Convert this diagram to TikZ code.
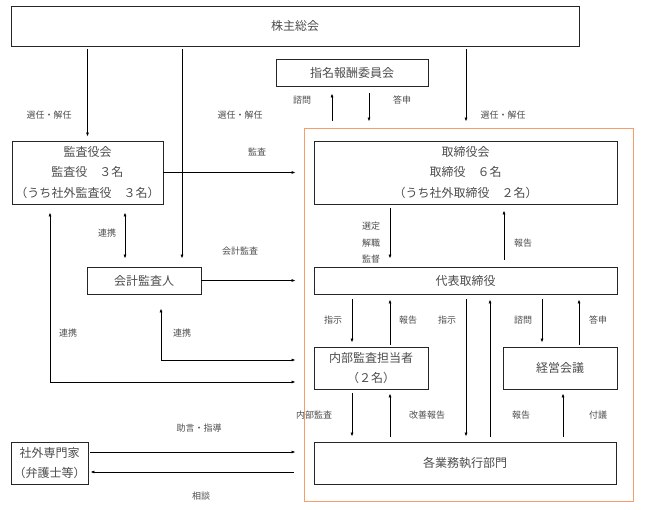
\documentclass[tikz,border=0pt]{standalone}
\usepackage{fontspec}
\setmainfont{Noto Sans CJK JP}
\usepackage{xcolor}
\usepackage{tikz}
\usetikzlibrary{arrows.meta}
\definecolor{orangeline}{rgb}{0.96,0.62,0.42}
\definecolor{textgray}{rgb}{0.3,0.3,0.3}

\begin{document}
\begin{tikzpicture}[
  x=1pt, y=-1pt,
  box/.style={draw=black!85, line width=0.8pt, inner sep=0pt, align=center,
    text=textgray, font=\fontsize{12}{20.5}\selectfont},
  lbl/.style={inner sep=0pt, align=center, text=textgray,
    font=\fontsize{9}{16.5}\selectfont},
  arr/.style={line width=0.7pt, -{Latex[length=4pt,width=3pt]},
    shorten <=5pt, shorten >=5pt},
  link/.style={line width=0.7pt,
    {Latex[length=4pt,width=3pt]}-{Latex[length=4pt,width=3pt]},
    shorten <=8pt, shorten >=8pt}]
  \useasboundingbox (0,0) rectangle (645,510);

  % executive side
  \node[draw=orangeline, line width=0.9pt, inner sep=0pt,
    minimum width=329, minimum height=373] (shikkou) at (468.5,314.5) {};

  % boxes
  \node[box, minimum width=568, minimum height=40] (soukai) at (295,26) {株主総会};
  \node[box, minimum width=152, minimum height=27] (shimei) at (352,72.5) {指名報酬委員会};
  \node[box, minimum width=151, minimum height=63] (kansa) at (87.5,172.5)
    {監査役会\\監査役　３名\\（うち社外監査役　３名）};
  \node[box, minimum width=303, minimum height=63] (torishimari) at (465.5,172.5)
    {取締役会\\取締役　６名\\（うち社外取締役　２名）};
  \node[box, minimum width=114, minimum height=27] (kaikei) at (144,280.5) {会計監査人};
  \node[box, minimum width=303, minimum height=27] (daihyo) at (465.5,280.5) {代表取締役};
  \node[box, minimum width=114, minimum height=42] (naibu) at (371,368)
    {内部監査担当者\\（２名）};
  \node[box, minimum width=114, minimum height=42] (keiei) at (560,368) {経営会議};
  \node[box, minimum width=77, minimum height=42] (shagai) at (49.5,463)
    {社外専門家\\（弁護士等）};
  \node[box, minimum width=302, minimum height=42] (gyomu) at (465,463) {各業務執行部門};

  % columns and levels for connectors
  \coordinate (senninM) at (182,0);
  \coordinate (senninR) at (466,0);
  \coordinate (shimonA) at (332,0);
  \coordinate (toushinA) at (369,0);
  \coordinate (renkeiM) at (125,0);
  \coordinate (renkeiL) at (50,382);
  \coordinate (renkeiR) at (161,360);
  \coordinate (sentei) at (390,0);
  \coordinate (houkokuT) at (504,0);
  \coordinate (shijiN) at (352,0);
  \coordinate (houkokuN) at (390,0);
  \coordinate (shijiG) at (466,0);
  \coordinate (houkokuG) at (490,0);
  \coordinate (shimonK) at (542,0);
  \coordinate (toushinK) at (579,0);
  \coordinate (fugi) at (563,0);
  \coordinate (jogen) at (0,452);
  \coordinate (soudan) at (0,472);

  % general meeting
  \draw[arr, shorten <=3pt, shorten >=4pt] (soukai.south -| kansa.north) -- (kansa.north);
  \draw[arr, shorten <=3pt, shorten >=8pt] (soukai.south -| senninM) -- (kaikei.north -| senninM);
  \draw[arr, shorten <=3pt, shorten >=6pt] (soukai.south -| senninR) -- (shikkou.north -| senninR);
  \draw[arr, shorten <=7pt, shorten >=7pt] (shikkou.north -| shimonA) -- (shimei.south -| shimonA);
  \draw[arr, shorten <=7pt, shorten >=6pt] (shimei.south -| toushinA) -- (shikkou.north -| toushinA);

  % audit
  \draw[arr, shorten <=0pt, shorten >=8pt] (kansa.east) -- (kansa.east -| shikkou.west);
  \draw[arr, shorten <=0pt, shorten >=8pt] (kaikei.east) -- (kaikei.east -| shikkou.west);
  \draw[link] (kansa.south -| renkeiM) -- (kaikei.north -| renkeiM);
  \draw[link] (kansa.south -| renkeiL) -- (renkeiL) -- (renkeiL -| shikkou.west);
  \draw[link, shorten <=14pt] (kaikei.south -| renkeiR) -- (renkeiR) -- (renkeiR -| shikkou.west);

  % board and officers
  \draw[arr, shorten <=4pt, shorten >=8pt] (torishimari.south -| sentei) -- (daihyo.north -| sentei);
  \draw[arr, shorten <=7pt, shorten >=6pt] (daihyo.north -| houkokuT) -- (torishimari.south -| houkokuT);
  \draw[arr, shorten >=4pt] (daihyo.south -| shijiN) -- (naibu.north -| shijiN);
  \draw[arr, shorten <=2pt] (naibu.north -| houkokuN) -- (daihyo.south -| houkokuN);
  \draw[arr] (daihyo.south -| shijiG) -- (gyomu.north -| shijiG);
  \draw[arr] (gyomu.north -| houkokuG) -- (daihyo.south -| houkokuG);
  \draw[arr, shorten >=4pt] (daihyo.south -| shimonK) -- (keiei.north -| shimonK);
  \draw[arr, shorten <=2pt] (keiei.north -| toushinK) -- (daihyo.south -| toushinK);
  \draw[arr, shorten <=4pt] (naibu.south -| shijiN) -- (gyomu.north -| shijiN);
  \draw[arr, shorten >=4pt] (gyomu.north -| houkokuN) -- (naibu.south -| houkokuN);
  \draw[arr, shorten >=4pt] (gyomu.north -| fugi) -- (keiei.south -| fugi);

  % outside experts
  \draw[arr, shorten <=2pt, shorten >=8pt] (shagai.east |- jogen) -- (shikkou.west |- jogen);
  \draw[arr, shorten <=10pt, shorten >=2pt] (shikkou.west |- soudan) -- (shagai.east |- soudan);

  % labels
  \node[lbl] (lSenninL) at (49,115) {選任・解任};
  \node[lbl] (lSenninM) at (240,115) {選任・解任};
  \node[lbl] (lSenninR) at (503,115) {選任・解任};
  \node[lbl] (lShimonA) at (302,100) {諮問};
  \node[lbl] (lToushinA) at (402,100) {答申};
  \node[lbl] (lKansa) at (257,152) {監査};
  \node[lbl] (lKaikei) at (240,251) {会計監査};
  \node[lbl] (lRenkeiM) at (107,233) {連携};
  \node[lbl] (lRenkeiL) at (68,333) {連携};
  \node[lbl] (lRenkeiR) at (182,333) {連携};
  \node[lbl] (lSentei) at (371,243) {選定\\解職\\監督};
  \node[lbl] (lHoukokuT) at (523,243) {報告};
  \node[lbl] (lShijiN) at (333,320) {指示};
  \node[lbl] (lHoukokuN) at (408,320) {報告};
  \node[lbl] (lShijiG) at (447,320) {指示};
  \node[lbl] (lShimonK) at (523,320) {諮問};
  \node[lbl] (lToushinK) at (598,320) {答申};
  \node[lbl] (lNaibu) at (314,415) {内部監査};
  \node[lbl] (lKaizen) at (427,415) {改善報告};
  \node[lbl] (lHoukokuG) at (521,415) {報告};
  \node[lbl] (lFugi) at (598,415) {付議};
  \node[lbl] (lJogen) at (199,428) {助言・指導};
  \node[lbl] (lSoudan) at (201,496) {相談};
\end{tikzpicture}
\end{document}
